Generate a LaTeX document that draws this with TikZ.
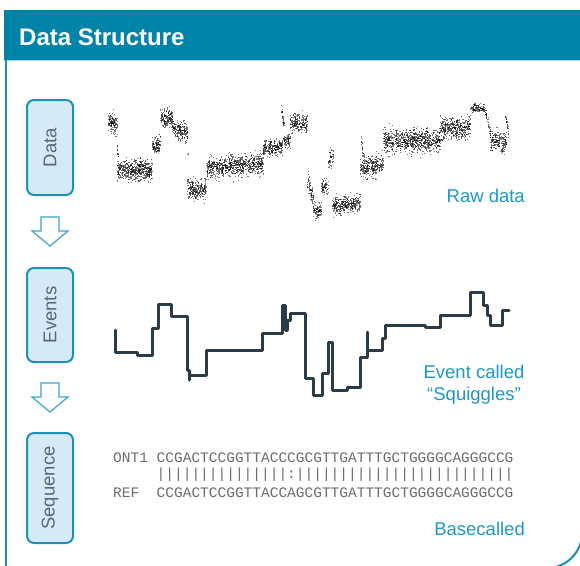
\documentclass[tikz,border=0pt]{standalone}
\usepackage{fontspec}
\setmainfont{Liberation Sans}
\newfontfamily\monof{Liberation Mono}
\usetikzlibrary{calc}
\definecolor{hdr}{HTML}{0083A9}
\definecolor{frm}{HTML}{1A8CB3}
\definecolor{boxfill}{HTML}{D5E9F6}
\definecolor{boxdraw}{HTML}{1E90B8}
\definecolor{boxtext}{HTML}{5B6670}
\definecolor{lab}{HTML}{1F97C6}
\definecolor{trace}{HTML}{2B3B48}
\definecolor{seqc}{HTML}{6B6B6B}
\definecolor{arr}{HTML}{3BA3C6}
\newcommand\rawseg[6]{%
  \foreach \k in {1,...,#6}{%
    \pgfmathsetmacro\ro{#5*0.55*(rand+rand+rand+rand)}%
    \pgfmathsetmacro\rx{#1+(#2-#1)*rnd}%
    \pgfmathsetmacro\ry{#3+(#4-#3)*(\rx-#1)/(#2-#1+0.001)+\ro}%
    \fill[rawdot] (\rx,\ry) rectangle ++(1.1,1.1);
  }}
\newcommand\hollowarrow[1]{%
  \draw[hollow] ($#1+(-9,-14.5)$) -- ++(18,0) -- ++(0,14) -- ++(9,0)
     -- ++(-18,15) -- ++(-18,-15) -- ++(9,0) -- cycle;}
\begin{document}
\begin{tikzpicture}[x=1pt,y=-1pt,
  lbox/.style={draw=boxdraw, line width=2pt, fill=boxfill, rounded corners=7pt,
     rotate=90, minimum height=46pt, text=boxtext, inner sep=0pt,
     font=\fontsize{18.5}{22}\selectfont},
  lbl/.style={text=lab, inner sep=0pt, font=\fontsize{18.5}{22}\selectfont},
  seqtxt/.style={text=seqc, inner sep=0pt, anchor=base west, font=\monof\fontsize{14.5}{17}\selectfont},
  rawdot/.style={black, opacity=0.55},
  hollow/.style={draw=arr, line width=1.2pt, fill=white, line join=miter},
  trc/.style={draw=trace, line width=3pt, line join=round, line cap=round}]
\useasboundingbox (0,0) rectangle (580,565);
\clip (0,0) rectangle (580,565);
% frame and header
\fill[hdr] (4,10) rectangle (590,60);
\draw[white!70!hdr, line width=0.6pt] (4,60) -- (590,60);
\draw[frm, line width=2pt] (6,60) -- (6,570);
\draw[frm, line width=2pt, rounded corners=35pt] (300,568) -- (582,568) -- (582,60);
\node[anchor=base west, text=white, inner sep=0pt, font=\bfseries\fontsize{24}{28}\selectfont] (title) at (19,45) {Data Structure};
% left boxes
\node[lbox, minimum width=95pt] (data) at (50,147.5) {Data};
\node[lbox, minimum width=94pt] (events) at (50,315) {Events};
\node[lbox, minimum width=110pt] (seq) at (50,488) {Sequence};
\hollowarrow{($(data.west)!0.5!(events.east)$)}
\hollowarrow{($(events.west)!0.5!(seq.east)$)}
% raw data
\pgfmathsetseed{4321}
\rawseg{108}{117}{122}{124}{7}{130}
\rawseg{116}{118}{133}{160}{3}{15}
\rawseg{117}{152}{169}{170}{8}{520}
\rawseg{152}{160}{145}{145}{7}{110}
\rawseg{160}{172}{117}{118}{7}{170}
\rawseg{172}{187}{127}{133}{7}{200}
\rawseg{186}{188}{152}{154}{1}{2}
\rawseg{187}{206}{189}{189}{8}{260}
\rawseg{206}{263}{168}{163}{8}{780}
\rawseg{263}{282}{148}{146}{6}{240}
\rawseg{281}{284}{110}{126}{4}{30}
\rawseg{283}{290}{140}{140}{6}{80}
\rawseg{290}{307}{122}{123}{7}{210}
\rawseg{307}{313}{178}{200}{7}{70}
\rawseg{313}{321}{210}{210}{6}{90}
\rawseg{321}{328}{186}{186}{6}{70}
\rawseg{328}{333}{158}{158}{8}{45}
\rawseg{332}{360}{206}{201}{7}{340}
\rawseg{361}{364}{140}{160}{5}{20}
\rawseg{360}{383}{168}{164}{8}{300}
\rawseg{383}{440}{140}{140}{9}{800}
\rawseg{440}{470}{128}{127}{8}{400}
\rawseg{470}{485}{108}{108}{3}{110}
\rawseg{485}{490}{112}{132}{4}{35}
\rawseg{490}{506}{140}{142}{8}{200}
\rawseg{505}{508}{115}{135}{5}{25}
\node[lbl, anchor=base east] (rawlab) at (525,202) {Raw data};
% events trace
\draw[trc] (115,330) -- (115,352) -- (137,352) -- (137,355) -- (152,355) -- (152,328)
  -- (158,328) -- (158,304) -- (171,304) -- (171,316) -- (187,316) -- (187,370)
  -- (189,370) -- (189,380) -- (189,375) -- (206,375) -- (206,350) -- (262,350)
  -- (262,333) -- (282,333) -- (282,305) -- (285,305) -- (285,330) -- (287,330)
  -- (287,320) -- (290,320) -- (290,313) -- (305,313) -- (305,378) -- (313,378)
  -- (313,395) -- (322,395) -- (322,373) -- (328,373) -- (328,342) -- (332,342)
  -- (332,390) -- (347,390) -- (347,387) -- (360,387) -- (360,357) -- (367,357)
  -- (367,332) -- (367,350) -- (382,350) -- (382,338) -- (385,338) -- (385,325)
  -- (425,325) -- (425,327) -- (440,327) -- (440,315) -- (470,315) -- (470,292)
  -- (483,292) -- (483,305) -- (487,305) -- (487,315) -- (490,315) -- (490,325)
  -- (502,325) -- (502,310) -- (509,310);
\node[lbl, anchor=base] (evlab1) at (474,378) {Event called};
\node[lbl, anchor=base] (evlab2) at (474,400) {“Squiggles”};
% sequence
\node[seqtxt] (ont) at (113,462) {ONT1\ CCGACTCCGGTTACCCGCGTTGATTTGCTGGGGCAGGGCCG};
\node[seqtxt] (bars) at (113,478) {\ \ \ \ \ |||||||||||||||:|||||||||||||||||||||||||};
\node[seqtxt] (ref) at (113,497) {REF\ \ CCGACTCCGGTTACCAGCGTTGATTTGCTGGGGCAGGGCCG};
\node[lbl, anchor=base east] (baselab) at (525,535) {Basecalled};
\end{tikzpicture}
\end{document}
